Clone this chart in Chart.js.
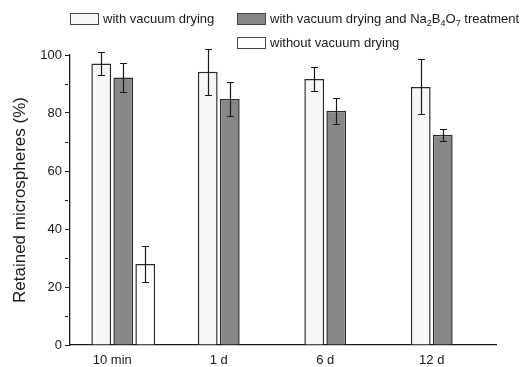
<!DOCTYPE html>
<html>
<head>
<meta charset="utf-8">
<script src="https://cdn.jsdelivr.net/npm/chart.js@4.4.1/dist/chart.umd.min.js"></script>
<style>
    html, body { margin: 0; padding: 0; background: #fff; }
    #wrap { position: relative; width: 528px; height: 367px; font-family: "Liberation Sans", Arial, sans-serif; }
    #legend { position: absolute; left: 0; top: 0; width: 528px; height: 55px; }
    .item { position: absolute; display: flex; align-items: center; font-size: 13px; color: #1a1a1a; white-space: nowrap; line-height: 14px; }
    .box { width: 27px; height: 10px; border: 1px solid #444; margin-right: 4px; }
    .item sub { font-size: 9px; line-height: 0; vertical-align: -3px; }
</style>
</head>
<body>
<div id="wrap">
    <canvas id="chart"></canvas>
    <div id="legend"></div>
</div>
<script>
// Datos
const categories = ["10 min", "1 d", "6 d", "12 d"];
const seriesNames = [
    "with vacuum drying",
    "with vacuum drying and Na₂B₄O₇ treatment",
    "without vacuum drying"
];
const withVacuum = [97.1, 94.2, 91.7, 89.0];
const withVacuumErr = [3.9, 7.9, 4.0, 9.5];
const withBorate = [92.2, 84.8, 80.8, 72.5];
const withBorateErr = [5.1, 6.0, 4.5, 2.0];
const withoutVacuum = [27.9, null, null, null];
const withoutVacuumErr = [6.3, null, null, null];
const yTicks = [0, 20, 40, 60, 80, 100];

const fills = ["#f7f7f7", "#878787", "#ffffff"];
const legendSpots = [[70, 12], [237, 12], [237, 36]];

// Barras de error dibujadas con la escala y
const errorBars = {
    id: "errorBars",
    afterDatasetsDraw(chart) {
        const ctx = chart.ctx;
        const y = chart.scales.y;
        ctx.save();
        ctx.strokeStyle = "#1a1a1a";
        ctx.lineWidth = 1.2;
        chart.data.datasets.forEach((ds, i) => {
            chart.getDatasetMeta(i).data.forEach((bar, j) => {
                const v = ds.data[j], e = ds.errors[j];
                if (v == null || e == null) return;
                const top = Math.round(y.getPixelForValue(v + e)) + 0.5;
                const bot = Math.round(y.getPixelForValue(v - e)) + 0.5;
                const x = Math.round(bar.x) + 0.5;
                ctx.beginPath();
                ctx.moveTo(x, top); ctx.lineTo(x, bot);
                ctx.moveTo(x - 3.5, top); ctx.lineTo(x + 3.5, top);
                ctx.moveTo(x - 3.5, bot); ctx.lineTo(x + 3.5, bot);
                ctx.stroke();
            });
        });
        ctx.restore();
    }
};

const datasets = [withVacuum, withBorate, withoutVacuum].map((values, i) => ({
    label: seriesNames[i],
    data: values,
    errors: [withVacuumErr, withBorateErr, withoutVacuumErr][i],
    backgroundColor: fills[i],
    borderColor: "#2b2b2b",
    borderWidth: 1.5,
    categoryPercentage: 0.62,
    barPercentage: 0.9
}));

const chart = new Chart(document.getElementById("chart"), {
    type: "bar",
    data: { labels: categories, datasets: datasets },
    plugins: [errorBars],
    options: {
        responsive: true,
        maintainAspectRatio: false,
        animation: false,
        layout: { padding: { top: 55, right: 32, left: 0, bottom: 0 } },
        plugins: {
            legend: { display: false },
            tooltip: { enabled: false }
        },
        scales: {
            x: {
                grid: { display: false, drawTicks: false },
                border: { display: true, color: "#1a1a1a", width: 1.2 },
                ticks: {
                    color: "#1a1a1a",
                    font: { family: "'Liberation Sans', Arial, sans-serif", size: 13 },
                    padding: 8,
                    labelOffset: -11
                },
                afterFit: s => { s.height = 22; }
            },
            y: {
                min: 0,
                max: 100,
                afterFit: s => { s.width = 70; },
                border: { display: true, color: "#1a1a1a", width: 1.3 },
                grid: {
                    drawOnChartArea: false,
                    tickLength: 5,
                    tickColor: "#1a1a1a",
                    tickBorderDash: c => (c.tick && yTicks.includes(c.tick.value)) ? [] : [3, 10]
                },
                ticks: {
                    stepSize: 10,
                    autoSkip: false,
                    padding: 3,
                    color: "#1a1a1a",
                    font: { family: "'Liberation Sans', Arial, sans-serif", size: 13 },
                    callback: v => yTicks.includes(v) ? v : ""
                },
                title: {
                    display: true,
                    text: "Retained microspheres (%)",
                    color: "#1a1a1a",
                    font: { family: "'Liberation Sans', Arial, sans-serif", size: 17 },
                    padding: { top: 10, bottom: 0 }
                }
            }
        }
    }
});

// Leyenda en HTML para poder usar subíndices
const legend = document.getElementById("legend");
chart.data.datasets.forEach((ds, i) => {
    const item = document.createElement("div");
    item.className = "item";
    item.style.left = legendSpots[i][0] + "px";
    item.style.top = legendSpots[i][1] + "px";
    const box = document.createElement("span");
    box.className = "box";
    box.style.background = ds.backgroundColor;
    const text = document.createElement("span");
    text.innerHTML = ds.label.replace(/[₀-₉]/g, c => "<sub>" + (c.charCodeAt(0) - 0x2080) + "</sub>");
    item.appendChild(box);
    item.appendChild(text);
    legend.appendChild(item);
});
</script>
</body>
</html>
